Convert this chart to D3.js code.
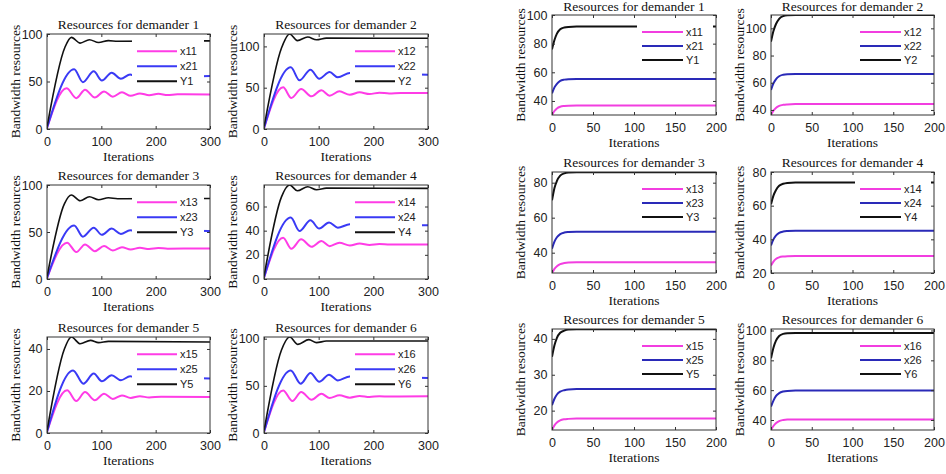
<!DOCTYPE html>
<html>
<head>
<meta charset="utf-8">
<script src="https://cdn.jsdelivr.net/npm/d3@7"></script>
<style>
  body { margin: 0; background: #fff; }
  svg { display: block; }
</style>
</head>
<body>
<svg id="chart" width="946" height="474"></svg>
<script>
// demanders 1..6
const demanders = [1, 2, 3, 4, 5, 6];

const oscX1 = [
  [[0,1],[36,42.9],[54,32.5],[70,41.4],[88,33.2],[105,39.6],[121,33.9],[138,38.6],[154,35],[171,37.5],[188,35.5],[205,37],[222,35.8],[240,36.5],[300,36.2]],
  [[0,1],[35,50.4],[50,37.5],[68,48.4],[87,39.5],[105,46.8],[120,40.3],[138,45.6],[157,41.5],[175,44.4],[193,42.3],[211,44],[229,42.9],[250,43.6],[300,43.5]],
  [[0,1],[37,38.6],[54,28.6],[70,36.8],[88,29.6],[105,35],[121,30.4],[138,33.9],[154,31.4],[171,33.2],[188,31.9],[205,32.9],[222,32.3],[300,32.5]],
  [[0,1],[35,34.2],[50,25],[68,32.8],[87,26.7],[105,31.4],[120,27.2],[138,30],[157,27.8],[175,29.4],[193,28.2],[211,29],[230,28.5],[300,28.6]],
  [[0,0.5],[37,20.3],[54,15.2],[70,19.5],[88,15.6],[105,18.7],[121,16.2],[138,17.9],[154,16.7],[171,17.5],[188,16.9],[210,17.3],[300,17.1]],
  [[0,1],[35,45.2],[52,33.9],[68,43.5],[87,35.3],[105,41.7],[120,37.1],[138,39.9],[157,37.5],[175,39.3],[193,38.2],[211,39],[230,38.6],[300,38.9]]
];
const oscX2 = [
  [[0,1],[50,62.9],[66,49.3],[86,60.7],[101,51],[119,59.3],[136,52.9],[153,57.5],[170,54],[187,56.5],[205,55],[300,55.7]],
  [[0,1],[49,74.6],[65,58.9],[85,71.8],[101,60.9],[120,69],[135,62.5],[157,67.7],[175,64.2],[195,66.5],[300,65.8]],
  [[0,1],[50,57],[66,45],[86,54.6],[101,47],[119,53.6],[136,47.9],[153,51.8],[170,49.5],[190,51.5],[300,51]],
  [[0,1],[49,50.8],[65,39.7],[85,48.6],[101,41.7],[119,46.7],[135,42.5],[157,45.3],[175,43.5],[195,44.8],[300,44.4]],
  [[0,0.5],[48,29.8],[67,23.5],[86,28.3],[101,24.6],[119,27.5],[136,25.1],[153,27],[170,25.5],[190,26.4],[300,25.9]],
  [[0,1],[49,66.4],[67,52.3],[85,63.6],[101,54.4],[119,61.8],[135,55.8],[157,60],[175,57.3],[195,59],[300,58.3]]
];
const oscY = [
  [[0,2],[33,86],[45,96.4],[61,90.4],[78,94],[95,91],[113,93],[130,92.3],[300,92.8]],
  [[0,2],[32,98],[47,115],[61,107],[80,111.3],[96,108],[114,110],[300,109.8]],
  [[0,2],[32,80],[45,89.3],[61,83.2],[78,87.5],[95,84.3],[113,86.4],[130,85.4],[300,85.7]],
  [[0,2],[32,68],[47,77.8],[61,73],[80,76.4],[96,73.9],[114,75.2],[300,75]],
  [[0,1],[32,40],[45,45.7],[61,42.5],[80,44.1],[95,43],[113,43.6],[300,43.3]],
  [[0,2],[32,88],[47,101.8],[62,94],[82,99],[96,95.8],[114,97.5],[300,97.5]]
];
const oscYDomain = [[0,100],[0,115],[0,100],[0,77.8],[0,45.7],[0,101.8]];
const oscYTicks = [[0,50,100],[0,50,100],[0,50,100],[0,20,40,60],[0,20,40],[0,50,100]];
const oscXTicks = [0, 100, 200, 300];

// right block: smooth run over 200 iterations, values at smoothIter
const smoothIter = [0, 3, 6, 10, 15, 20, 30, 200];
const smoothX1 = [
  [30.2, 33, 34.8, 36, 36.5, 36.7, 36.8, 36.8],
  [36.3, 39.5, 41.5, 43, 43.8, 44.1, 44.3, 44.3],
  [28.4, 30.8, 32.3, 33.5, 34.1, 34.4, 34.5, 34.5],
  [24.5, 26.8, 28.3, 29.3, 29.8, 30, 30.1, 30.1],
  [14.6, 15.9, 16.7, 17.3, 17.6, 17.7, 17.8, 17.8],
  [33.3, 36, 37.8, 39.3, 40, 40.3, 40.4, 40.4]
];
const smoothX2 = [
  [45.3, 49.5, 52, 54, 54.9, 55.2, 55.3, 55.3],
  [54.7, 59.5, 62.5, 64.8, 65.9, 66.3, 66.5, 66.5],
  [42.3, 46.3, 48.8, 50.6, 51.5, 51.8, 52, 52],
  [36.4, 40, 42.2, 43.8, 44.6, 44.9, 45.1, 45.1],
  [21.5, 23.3, 24.5, 25.3, 25.7, 25.9, 26, 26],
  [49, 53, 56, 58, 59.1, 59.5, 59.7, 59.7]
];
const smoothY = [
  [76, 82.5, 87, 90, 91.3, 91.7, 91.9, 91.9],
  [90.2, 98, 103, 107, 109, 109.6, 109.8, 109.8],
  [69.9, 77, 81, 84, 85.3, 85.8, 86, 86],
  [60.8, 66, 69.2, 71.8, 73, 73.5, 73.8, 73.8],
  [35, 38.2, 40.3, 41.7, 42.3, 42.6, 42.7, 42.7],
  [81.4, 88.5, 93, 96.3, 97.7, 98.2, 98.4, 98.4]
];
const smoothYDomain = [[30.2,100],[36.3,109.8],[28.4,86.1],[20,80],[14.6,42.75],[33.3,101]];
const smoothYTicks = [[40,60,80,100],[40,60,80,100],[40,60,80],[20,40,60,80],[20,30,40],[40,60,80,100]];
const smoothXTicks = [0, 50, 100, 150, 200];

// layout of the two 3x2 grids (pixel boxes)
const leftCols = [[47, 210], [264, 428]];
const leftRows = [[34, 129], [185, 279], [337, 433]];
const rightCols = [[552, 716], [771, 934]];
const rightRows = [[15, 115], [172, 273], [329, 430]];

const serif = "'Liberation Serif', 'Times New Roman', serif";
const sans = "'Liberation Sans', Arial, sans-serif";
const svg = d3.select("#chart");
let clipCount = 0;

function drawPanel(box, opt) {
  const [x0, x1] = box.x, [y0, y1] = box.y;
  const g = svg.append("g");
  const x = d3.scaleLinear().domain(opt.xDomain).range([x0, x1]);
  const y = d3.scaleLinear().domain(opt.yDomain).range([y1, y0]);

  const clipId = "clip" + (clipCount++);
  g.append("clipPath").attr("id", clipId)
    .append("rect").attr("x", x0).attr("y", y0).attr("width", x1 - x0).attr("height", y1 - y0);

  const line = d3.line().x(d => x(d[0])).y(d => y(d[1])).curve(d3.curveMonotoneX);
  const lines = g.append("g").attr("clip-path", `url(#${clipId})`);
  opt.series.forEach(s => {
    lines.append("path")
      .attr("d", line(s.points))
      .attr("fill", "none")
      .attr("stroke", s.color)
      .attr("stroke-width", s.width);
  });

  // legend (white box, no border) sits over the lines
  const L = opt.legend;
  const lg = g.append("g");
  lg.append("rect")
    .attr("x", x1 - L.left).attr("y", y0 + L.top)
    .attr("width", L.left - L.right).attr("height", L.bottom - L.top)
    .attr("fill", "#fff");
  opt.series.forEach((s, i) => {
    const ry = y0 + L.row0 + i * L.step;
    lg.append("line")
      .attr("x1", x1 - L.s0).attr("x2", x1 - L.s1)
      .attr("y1", ry).attr("y2", ry)
      .attr("stroke", s.color).attr("stroke-width", 2);
    lg.append("text")
      .attr("x", x1 - L.s1 + 3).attr("y", ry)
      .attr("dominant-baseline", "central")
      .attr("font-family", sans).attr("font-size", 11).attr("fill", "#222")
      .text(s.label);
  });

  // axes with inward ticks
  const ax = g.append("g").attr("transform", `translate(0,${y1})`)
    .call(d3.axisBottom(x).tickValues(opt.xTicks).tickSizeInner(-3).tickSizeOuter(0).tickPadding(8.5));
  const ay = g.append("g").attr("transform", `translate(${x0},0)`)
    .call(d3.axisLeft(y).tickValues(opt.yTicks).tickSizeInner(-3).tickSizeOuter(0).tickPadding(4.5));
  const at = g.append("g").attr("transform", `translate(0,${y0})`)
    .call(d3.axisTop(x).tickValues(opt.xTicks).tickSizeInner(-3).tickSizeOuter(0).tickFormat(""));
  const ar = g.append("g").attr("transform", `translate(${x1},0)`)
    .call(d3.axisRight(y).tickValues(opt.yTicks).tickSizeInner(-3).tickSizeOuter(0).tickFormat(""));
  [ax, ay, at, ar].forEach(a => {
    a.select(".domain").remove();
    a.selectAll("line").attr("stroke", "#333");
    a.selectAll("text").attr("font-family", sans).attr("font-size", 12.5).attr("fill", "#222");
  });

  g.append("rect")
    .attr("x", x0).attr("y", y0).attr("width", x1 - x0).attr("height", y1 - y0)
    .attr("fill", "none").attr("stroke", "#333").attr("stroke-width", 1);

  g.append("text")
    .attr("x", (x0 + x1) / 2).attr("y", Math.max(y0 - 5, 11))
    .attr("text-anchor", "middle")
    .attr("font-family", serif).attr("font-size", 13.5).attr("fill", "#111")
    .text("Resources for demander " + opt.id);
  g.append("text")
    .attr("x", (x0 + x1) / 2).attr("y", y1 + 32)
    .attr("text-anchor", "middle")
    .attr("font-family", serif).attr("font-size", 13.5).attr("fill", "#111")
    .text("Iterations");
  g.append("text")
    .attr("transform", `translate(${x0 - 32},${(y0 + y1) / 2}) rotate(-90)`)
    .attr("text-anchor", "middle").attr("dominant-baseline", "central")
    .attr("font-family", serif).attr("font-size", 13.5).attr("fill", "#111")
    .text("Bandwidth resources");
}

demanders.forEach((d, i) => {
  const col = i % 2, row = Math.floor(i / 2);

  drawPanel({ x: leftCols[col], y: leftRows[row] }, {
    id: d,
    xDomain: [0, 300], yDomain: oscYDomain[i],
    xTicks: oscXTicks, yTicks: oscYTicks[i],
    series: [
      { label: "x1" + d, color: "#ff3ce6", width: 2, points: oscX1[i] },
      { label: "x2" + d, color: "#3a3af5", width: 2, points: oscX2[i] },
      { label: "Y" + d, color: "#111", width: 1.6, points: oscY[i] }
    ],
    legend: { left: 78, right: 6, top: 6, bottom: 54, row0: 17.3, step: 15, s0: 73, s1: 33 }
  });

  drawPanel({ x: rightCols[col], y: rightRows[row] }, {
    id: d,
    xDomain: [0, 200], yDomain: smoothYDomain[i],
    xTicks: smoothXTicks, yTicks: smoothYTicks[i],
    series: [
      { label: "x1" + d, color: "#f23ee0", width: 2, points: smoothIter.map((t, k) => [t, smoothX1[i][k]]) },
      { label: "x2" + d, color: "#2a2ab8", width: 2, points: smoothIter.map((t, k) => [t, smoothX2[i][k]]) },
      { label: "Y" + d, color: "#111", width: 2, points: smoothIter.map((t, k) => [t, smoothY[i][k]]) }
    ],
    legend: { left: 79, right: 3, top: 8, bottom: 52, row0: 17, step: 14, s0: 74, s1: 33 }
  });
});
</script>
</body>
</html>
